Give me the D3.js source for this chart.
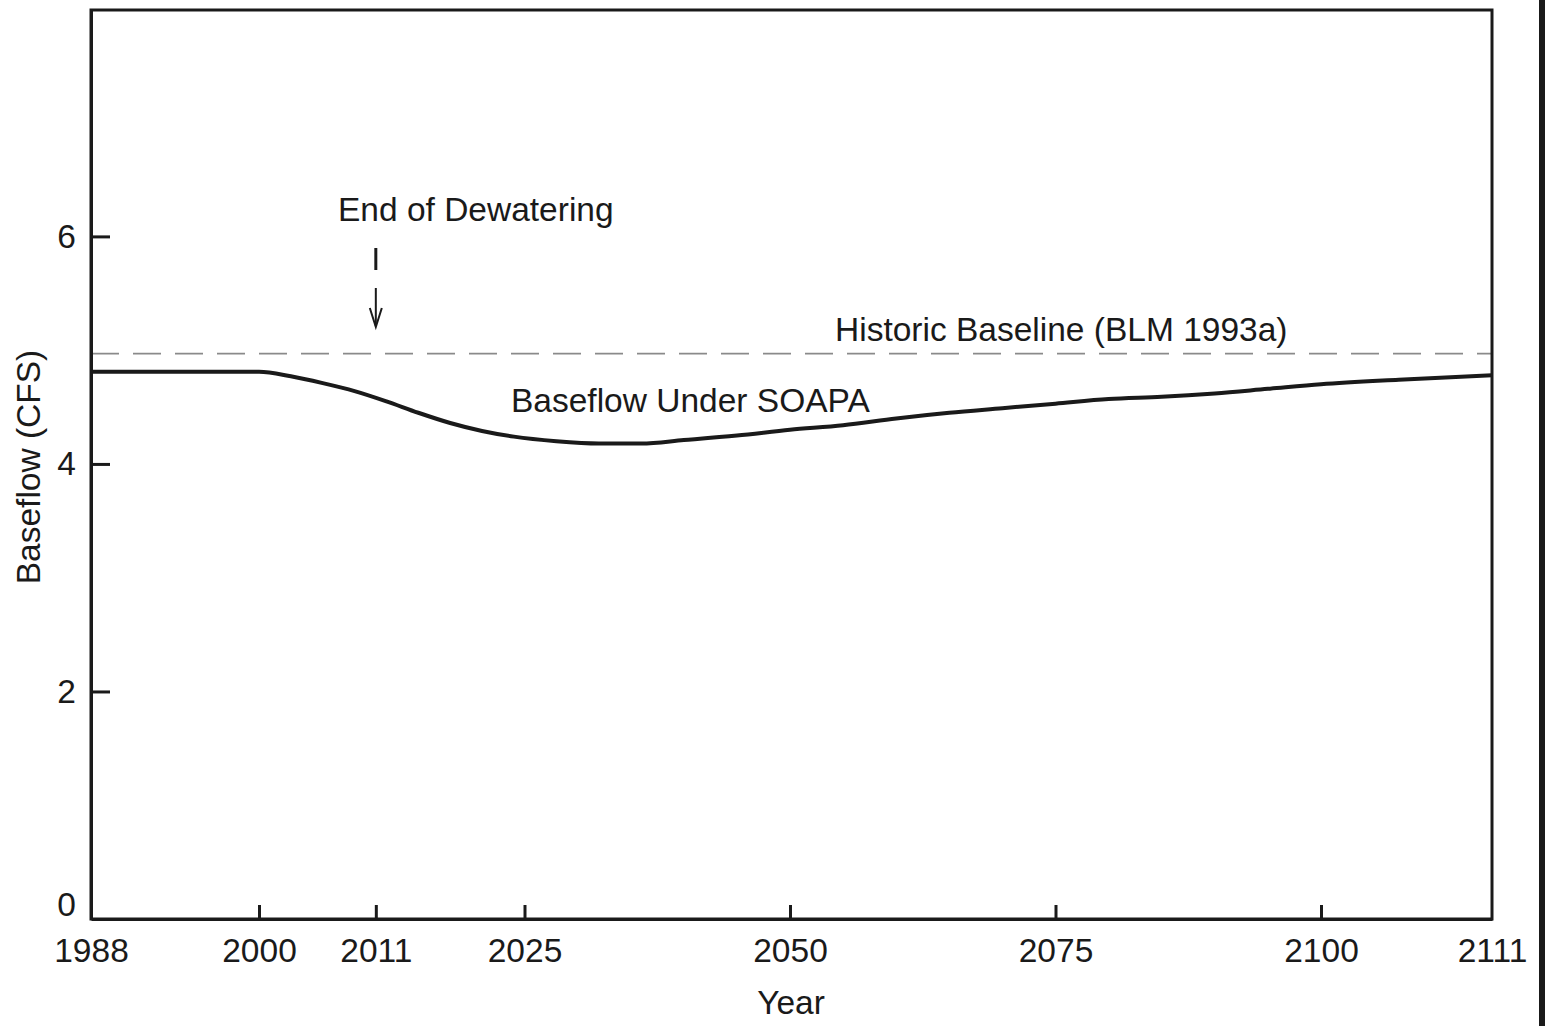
<!DOCTYPE html>
<html>
<head>
<meta charset="utf-8">
<script src="https://cdn.jsdelivr.net/npm/d3@7"></script>
<style>
  html, body { margin: 0; padding: 0; background: #fff; }
  svg text { font-family: "Liberation Sans", Arial, sans-serif; fill: #1a1a1a; }
</style>
</head>
<body>
<svg id="chart" width="1545" height="1026"></svg>
<script>
// ---- data ----
const years = [1988, 1995, 2000, 2003, 2006, 2009, 2012, 2015, 2018, 2021, 2024, 2028, 2032, 2036, 2040,
               2045, 2050, 2055, 2060, 2065, 2070, 2075, 2080, 2085, 2090, 2095, 2100, 2105, 2111];
const baseflow = [4.81, 4.81, 4.81, 4.77, 4.71, 4.64, 4.55, 4.45, 4.36, 4.29, 4.24, 4.20, 4.18, 4.18, 4.21,
                  4.25, 4.30, 4.34, 4.40, 4.45, 4.49, 4.53, 4.57, 4.59, 4.62, 4.66, 4.70, 4.74, 4.78];
const historicBaseline = 4.97;
const xTickValues = [1988, 2000, 2011, 2025, 2050, 2075, 2100, 2111];
const yTickValues = [0, 2, 4, 6];
const dewateringYear = 2011;
const labels = {
  dewatering: "End of Dewatering",
  historic: "Historic Baseline (BLM 1993a)",
  soapa: "Baseflow Under SOAPA",
  xTitle: "Year",
  yTitle: "Baseflow (CFS)"
};

// ---- layout ----
const svg = d3.select("#chart");
const plotLeft = 91, plotRight = 1492, plotTop = 10, plotBottom = 919;
const fs = 33.5;

// axis is piecewise: end labels sit at the frame edges
const x = d3.scaleLinear()
  .domain([1988, 2000, 2100, 2111])
  .range([plotLeft, 259, 1321, plotRight]);
const y = d3.scaleLinear().domain([0, 7.99]).range([plotBottom, plotTop]);

const ink = "#1a1a1a";

// page edge bar at far right (scan border)
svg.append("rect").attr("x", 1539).attr("y", 0).attr("width", 6).attr("height", 1026).attr("fill", ink);

// historic baseline dashed
svg.append("line")
  .attr("x1", plotLeft).attr("x2", plotRight)
  .attr("y1", y(historicBaseline)).attr("y2", y(historicBaseline))
  .attr("stroke", "#8a8a8a").attr("stroke-width", 1.6)
  .attr("stroke-dasharray", "28,14");

// baseflow curve
const line = d3.line()
  .x((d, i) => x(years[i]))
  .y(d => y(d))
  .curve(d3.curveMonotoneX);
svg.append("path")
  .datum(baseflow)
  .attr("d", line)
  .attr("fill", "none")
  .attr("stroke", ink)
  .attr("stroke-width", 4);

// frame
svg.append("rect")
  .attr("x", plotLeft).attr("y", plotTop)
  .attr("width", plotRight - plotLeft).attr("height", plotBottom - plotTop)
  .attr("fill", "none").attr("stroke", ink).attr("stroke-width", 3);

// x axis ticks (inward)
const xAxis = d3.axisBottom(x).tickValues(xTickValues).tickFormat(d3.format("d"))
  .tickSizeInner(-14).tickSizeOuter(0).tickPadding(19);
const gx = svg.append("g").attr("transform", `translate(0,${plotBottom})`).call(xAxis);
gx.select(".domain").attr("stroke", ink).attr("stroke-width", 3);
gx.selectAll(".tick line").attr("stroke", ink).attr("stroke-width", 3);
gx.selectAll(".tick text")
  .attr("font-size", fs).attr("font-family", "Liberation Sans, Arial, sans-serif")
  .attr("fill", ink).attr("dy", "0.71em");
gx.selectAll(".tick").filter(d => d === 1988 || d === 2111).select("line").remove();

// y axis ticks (inward)
const yAxis = d3.axisLeft(y).tickValues(yTickValues).tickFormat(d3.format("d"))
  .tickSizeInner(-19).tickSizeOuter(0).tickPadding(15);
const gy = svg.append("g").attr("transform", `translate(${plotLeft},0)`).call(yAxis);
gy.select(".domain").attr("stroke", ink).attr("stroke-width", 3);
gy.selectAll(".tick line").attr("stroke", ink).attr("stroke-width", 3);
gy.selectAll(".tick text")
  .attr("font-size", fs).attr("font-family", "Liberation Sans, Arial, sans-serif")
  .attr("fill", ink);
gy.selectAll(".tick").filter(d => d === 0).select("line").remove();
gy.selectAll(".tick").filter(d => d === 0).select("text").attr("dy", "-0.1em");

// annotations
const xd = x(dewateringYear);
svg.append("text").attr("x", 338).attr("y", 221).attr("font-size", fs).text(labels.dewatering);
svg.append("line").attr("x1", xd).attr("x2", xd).attr("y1", 248).attr("y2", 270)
  .attr("stroke", ink).attr("stroke-width", 3);
svg.append("line").attr("x1", xd).attr("x2", xd).attr("y1", 288).attr("y2", 326)
  .attr("stroke", ink).attr("stroke-width", 2);
svg.append("path")
  .attr("d", `M${xd - 6},${308} L${xd},${327} L${xd + 6},${308}`)
  .attr("fill", "none").attr("stroke", ink).attr("stroke-width", 2);

svg.append("text").attr("x", 835).attr("y", 341).attr("font-size", fs).text(labels.historic);
svg.append("text").attr("x", 511).attr("y", 412).attr("font-size", fs).text(labels.soapa);

// axis titles
svg.append("text").attr("x", 791).attr("y", 1014).attr("text-anchor", "middle")
  .attr("font-size", fs).text(labels.xTitle);
svg.append("text")
  .attr("transform", `translate(40,467) rotate(-90)`)
  .attr("text-anchor", "middle").attr("font-size", fs).text(labels.yTitle);
</script>
</body>
</html>
